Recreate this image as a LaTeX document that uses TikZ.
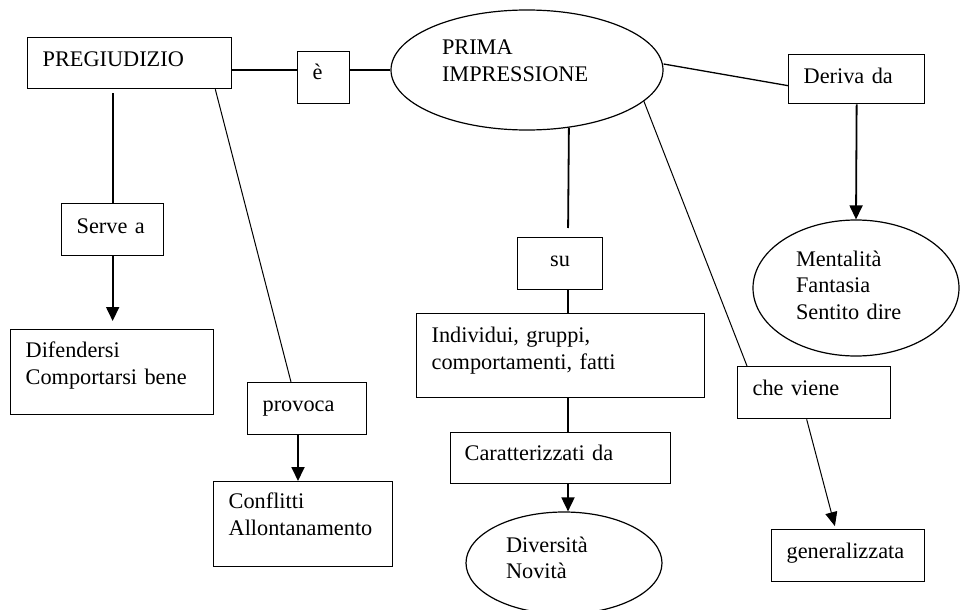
\documentclass[tikz,border=0pt]{standalone}
\usepackage{fontspec}
\setmainfont{Liberation Serif}
\usetikzlibrary{shapes.geometric,arrows.meta}
\begin{document}
\begin{tikzpicture}[x=1pt,y=-1pt,
  every node/.style={font=\fontsize{22.3pt}{26.5pt}\selectfont},
  bx/.style={draw, line width=1.3pt, rectangle, anchor=north west, inner ysep=0pt, inner xsep=15pt, align=left},
  el/.style={draw, line width=1.2pt, ellipse, inner sep=0pt, align=left},
  thk/.style={line width=1.8pt},
  mid/.style={line width=1.3pt},
  thn/.style={line width=1pt},
  tip/.style={-{Triangle[length=14pt,width=13pt]}},
  tipthin/.style={-{Triangle[length=14pt,width=12pt]}}
]
\clip (0,0) rectangle (961,610);

% rectangles
\node[bx, text width=174pt, text height=29pt, text depth=22pt] (pre) at (27,37) {PREGIUDIZIO};
\node[bx, text width=22pt, text height=28pt, text depth=24pt] (e) at (297,51) {è};
\node[bx, text width=106pt, text height=29pt, text depth=20pt] (der) at (788,54) {Deriva da};
\node[bx, text width=72pt, text height=30pt, text depth=22pt] (serve) at (61,203) {Serve a};
\node[bx, text width=173pt, text height=28pt, text depth=57pt] (dif) at (10,329) {Difendersi\\Comportarsi bene};
\node[bx, text width=89pt, text height=29pt, text depth=23pt] (prov) at (247,382) {provoca};
\node[bx, text width=149pt, text height=27pt, text depth=58pt] (conf) at (213,481) {Conflitti\\Allontanamento};
\node[bx, align=center, text width=55pt, text height=29pt, text depth=23pt] (su) at (517,237) {su};
\node[bx, text width=258pt, text height=29pt, text depth=55pt] (ind) at (416,313) {Individui, gruppi,\\comportamenti, fatti};
\node[bx, inner xsep=14pt, text width=192pt, text height=28pt, text depth=23pt] (car) at (450,432) {Caratterizzati da};
\node[bx, text width=123pt, text height=29pt, text depth=23pt] (chev) at (737,366) {che viene};
\node[bx, text width=123pt, text height=29pt, text depth=23pt] (gen) at (771,529) {generalizzata};

% ellipses
\node[el, minimum width=272pt, minimum height=120pt, text width=170pt, text height=15pt, text depth=45pt] (prima) at (527,70) {PRIMA\\IMPRESSIONE};
\node[el, minimum width=206pt, minimum height=136pt, text width=120pt, text height=18pt, text depth=62pt] (ment) at (856,288) {Mentalità\\Fantasia\\Sentito dire};
\node[el, minimum width=196pt, minimum height=102pt, text width=116pt, text height=19pt, text depth=41pt] (div) at (564,563) {Diversità\\Novità};

\coordinate (spine) at (568,0);
\coordinate (pc) at ([xshift=51pt]prov.south west);

% connectors
\draw[mid] (pre.east |- prima.west) -- (e.west |- prima.west);
\draw[mid] (e.east |- prima.west) -- (prima.west);
\draw[mid] ([yshift=6pt]prima.east) -- ([yshift=-6.5pt]der.west);
\draw[thk, tip] (der.south) -- (ment.north);
\draw[thk, shorten >=9pt] (prima.-54.3) -- (spine |- su.north);
\draw[thk] (spine |- su.south) -- (spine |- ind.north);
\draw[thk] (spine |- ind.south) -- (spine |- car.north);
\draw[thk, tip] (spine |- car.south) -- (spine |- div.north);
\draw[thn] (prima.-15) -- ([xshift=10pt]chev.north west);
\draw[thn, tipthin, shorten >=3pt] ([xshift=-7.5pt]chev.south) -- ([xshift=-12.5pt]gen.north);
\draw[thk, shorten <=4pt] (pre.south -| serve.north) -- (serve.north);
\draw[thk, tip, shorten >=8pt] (serve.south) -- (serve.south |- dif.north);
\draw[thn] ([xshift=-17pt]pre.south east) -- ([xshift=44pt]prov.north west);
\draw[thk, tip] (pc) -- (pc |- conf.north);
\end{tikzpicture}
\end{document}
